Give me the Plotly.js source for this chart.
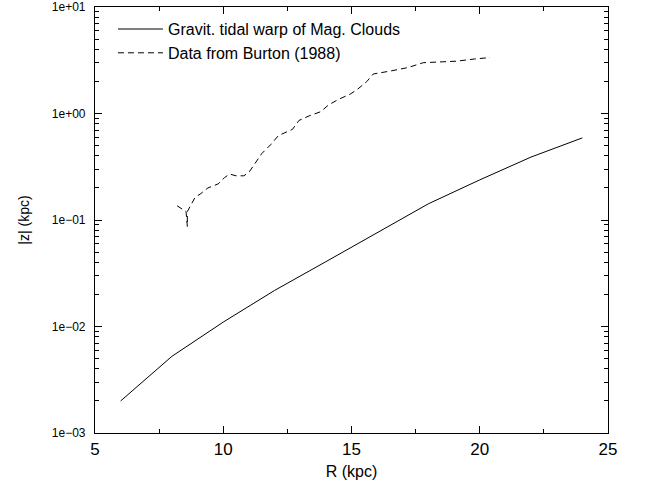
<!DOCTYPE html>
<html>
<head>
<meta charset="utf-8">
<script src="https://cdn.plot.ly/plotly-3.0.1.min.js"></script>
<style>html,body{margin:0;padding:0;background:#fff;}#chart{width:647px;height:488px;}</style>
</head>
<body>
<div id="chart"></div>
<script>
// Model curve: gravitational tidal warp of Magellanic Clouds
var modelR = [6, 8, 10, 12, 14, 16, 18, 20, 22, 24];
var modelZ = [0.0020, 0.00525, 0.0110, 0.0218, 0.0406, 0.0757, 0.142, 0.238, 0.39, 0.59];

// Observed data from Burton (1988)
var burtonR = [8.2, 8.55, 8.6, 8.6, 8.9, 9.1, 9.4, 9.6, 9.8, 10.05, 10.25, 10.5, 10.8, 11.0, 11.2, 11.5, 11.85, 12.15, 12.7, 12.95, 13.35, 13.8, 14.1, 14.5, 14.95, 15.25, 15.6, 15.85, 16.5, 17.2, 17.8, 18.5, 19.1, 19.8, 20.4];
var burtonZ = [0.136, 0.12, 0.087, 0.12, 0.163, 0.175, 0.2, 0.21, 0.218, 0.25, 0.27, 0.26, 0.26, 0.28, 0.33, 0.42, 0.51, 0.62, 0.71, 0.86, 0.95, 1.04, 1.2, 1.36, 1.52, 1.7, 2.0, 2.35, 2.5, 2.7, 3.0, 3.05, 3.1, 3.25, 3.35];

var xTickVals = [5, 10, 15, 20, 25];
var xTickText = ['5', '10', '15', '20', '25'];
var xMinorVals = [7.5, 12.5, 17.5, 22.5];
var yTickVals = [0.001, 0.01, 0.1, 1, 10];
var yTickText = ['1e\u221203', '1e\u221202', '1e\u221201', '1e+00', '1e+01'];

var yMinorVals = [];
[0.001, 0.01, 0.1, 1].forEach(function (d) {
  for (var k = 2; k <= 9; k++) yMinorVals.push(d * k);
});

var font = 'Liberation Sans, Arial, Helvetica, sans-serif';

var traces = [
  {x: modelR, y: modelZ, mode: 'lines', name: 'Gravit. tidal warp of Mag. Clouds',
   line: {color: 'black', width: 1}},
  {x: burtonR, y: burtonZ, mode: 'lines', name: 'Data from Burton (1988)',
   line: {color: 'black', width: 1, dash: '6px,4px'}}
];

var layout = {
  width: 647, height: 488,
  margin: {l: 95, r: 39, t: 7, b: 55},
  paper_bgcolor: 'white', plot_bgcolor: 'white',
  font: {family: font, color: 'black'},
  showlegend: true,
  legend: {x: 0.035, y: 0.988, xanchor: 'left', yanchor: 'top', bgcolor: 'rgba(0,0,0,0)',
           font: {size: 16, family: font}, itemwidth: 45, tracegroupgap: 0},
  xaxis: {
    range: [5, 25], tickmode: 'array', tickvals: xTickVals, ticktext: xTickText,
    ticks: 'inside', ticklen: 7, tickwidth: 1, tickcolor: '#000',
    showline: true, linecolor: '#000', linewidth: 1.2, mirror: 'allticks',
    showgrid: false, zeroline: false,
    tickfont: {size: 17, family: font},
    minor: {tickvals: xMinorVals, ticks: 'inside', ticklen: 4, tickwidth: 1, tickcolor: '#000', showgrid: false},
    title: {text: 'R (kpc)', font: {size: 16, family: font}, standoff: 8}
  },
  yaxis: {
    type: 'log', range: [-3, 1], tickmode: 'array', tickvals: yTickVals, ticktext: yTickText,
    ticks: 'inside', ticklen: 7, tickwidth: 1, tickcolor: '#000',
    showline: true, linecolor: '#000', linewidth: 1.2, mirror: 'allticks',
    showgrid: false, zeroline: false, ticklabeloverflow: 'allow', ticklabelstandoff: 6,
    tickfont: {size: 12, family: font},
    minor: {tickvals: yMinorVals, ticks: 'inside', ticklen: 4, tickwidth: 1, tickcolor: '#000', showgrid: false},
    title: {text: '|z| (kpc)', font: {size: 14, family: font}, standoff: 18}
  }
};

Plotly.newPlot('chart', traces, layout, {displayModeBar: false});
</script>
</body>
</html>
